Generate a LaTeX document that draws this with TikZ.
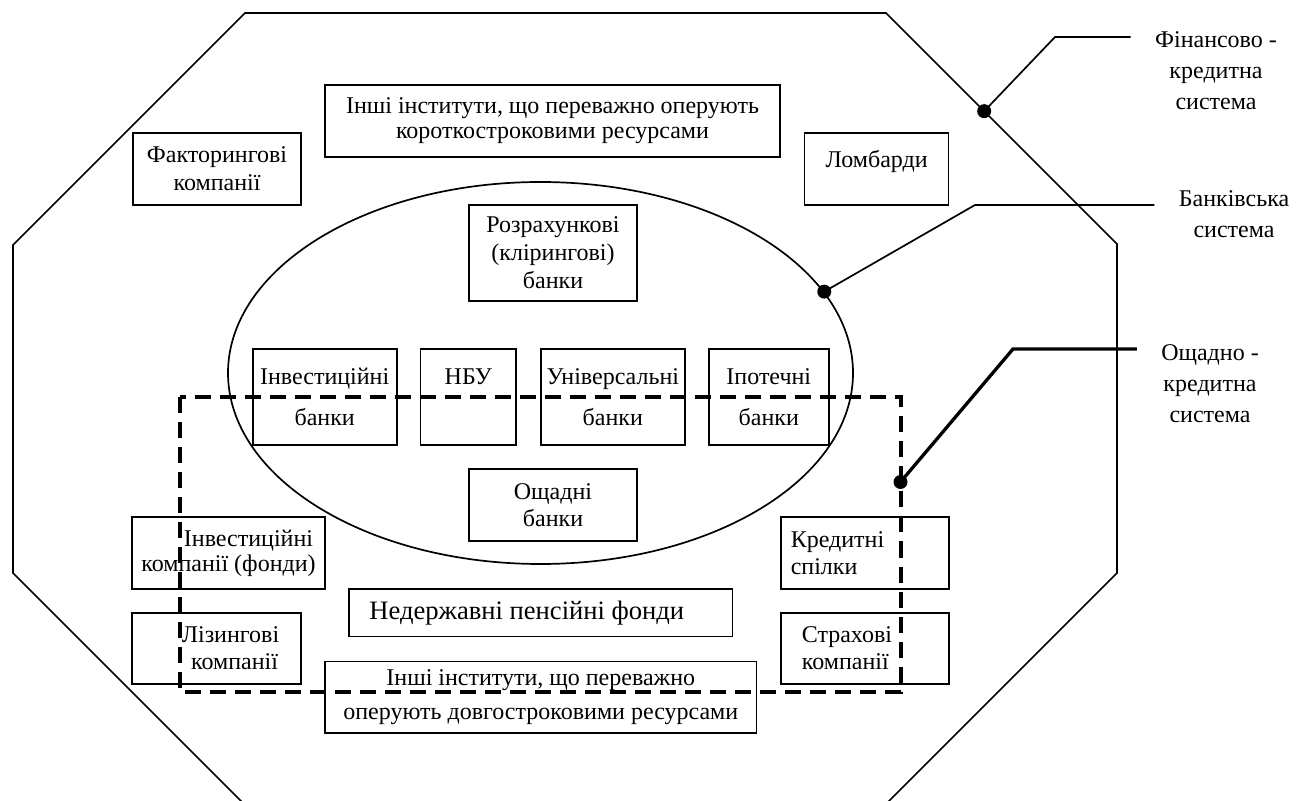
\documentclass[tikz,border=0pt]{standalone}
\usepackage{fontspec}
\setmainfont{Liberation Serif}
\usetikzlibrary{positioning,calc,shapes.geometric}
\tikzset{inst/.style={draw, line width=0.85pt, inner sep=0pt, align=center, font=\fontsize{12}{#1}\selectfont}, inst/.default=14}
\tikzset{syslabel/.style={align=center, inner xsep=12pt, font=\fontsize{12}{15.5}\selectfont}}
\tikzset{dot/.style={circle, fill=black, inner sep=0pt, minimum size=7pt}}
\tikzset{lead/.style={draw, line width=0.85pt}}
\tikzset{savlead/.style={draw, line width=1.65pt}}
\tikzset{savbound/.style={draw, line width=2pt, dash pattern=on 8pt off 4.5pt}}

\begin{document}
\begin{tikzpicture}[x=0.5pt, y=-0.5pt, line join=miter]
	\useasboundingbox (0,0) rectangle (1311,801);
	\clip (0,0) rectangle (1311,801);
	% financial and credit system (octagon)
	\coordinate (o1) at (245,13);
	\coordinate (o2) at (886,13);
	\coordinate (o3) at (1117,244);
	\coordinate (o4) at (1117,573);
	\coordinate (o5) at (885,805);
	\coordinate (o6) at (245,805);
	\coordinate (o7) at (13,573);
	\coordinate (o8) at (13,245);
	\draw[line width=0.85pt] (o1) -- (o2) -- (o3) -- (o4) -- (o5) -- (o6) -- (o7) -- (o8) -- cycle;
	%
	\node[inst=12.5, minimum width=227.5pt, minimum height=36pt] (shortres) at (552.5,121) {Інші інститути, що переважно оперують\\короткостроковими ресурсами};
	\node[inst, minimum width=84pt, minimum height=36pt] (factor) at (217,169) {Факторингові\\компанії};
	\node[inst=10, minimum width=72pt, minimum height=36pt] (lombard) at (876.6,169) {Ломбарди\\\mbox{}};
	% banking system
	\node[ellipse, draw, line width=0.85pt, minimum width=312.5pt, minimum height=191pt] (bankell) at (540.5,373) {};
	\node[inst, minimum width=84pt, minimum height=48pt] (clearing) at (553,253) {Розрахункові\\(клірингові)\\банки};
	\node[inst=20.5, minimum width=72pt, minimum height=48pt] (invbank) at (324.7,397) {Інвестиційні\\банки};
	\node[inst=20.5, minimum width=47.7pt, minimum height=48pt] (nbu) at (468.3,397) {НБУ\\\mbox{}};
	\node[inst=20.5, minimum width=72pt, minimum height=48pt] (univ) at (612.8,397) {Універсальні\\банки};
	\node[inst=20.5, minimum width=60pt, minimum height=48pt] (mortg) at (768.8,397) {Іпотечні\\банки};
	\node[inst=13.5, minimum width=84pt, minimum height=36pt] (savbank) at (553,505) {Ощадні\\банки};
	%
	\node[inst=12.5, minimum width=96.5pt, minimum height=36pt] (invcomp) at (228.5,553) {\hspace*{20pt}Інвестиційні\\компанії (фонди)};
	\node[inst=13.5, minimum width=84.5pt, minimum height=35.5pt] (leasing) at (216.5,648.5) {\hspace*{14pt}Лізингові\\\hspace*{18pt}компанії};
	\node[inst, font=\fontsize{13.3}{15}\selectfont, minimum width=191.8pt, minimum height=23.8pt] (pension) at (540.8,612.8) {Недержавні пенсійні фонди\hspace*{14pt}};
	\node[inst=17, minimum width=215.8pt, minimum height=35.7pt] (longres) at (540.8,697.3) {Інші інститути, що переважно\\оперують довгостроковими ресурсами};
	\node[inst=13.5, minimum width=84pt, minimum height=36pt, align=left, text width=74pt] (credun) at (864.8,553) {Кредитні\\спілки};
	\node[inst=13.5, minimum width=84pt, minimum height=35.5pt, align=left, text width=63pt] (insur) at (864.8,648.5) {Страхові\\компанії};
	% savings and credit system
	\coordinate (sl) at (180,397);
	\coordinate (sr) at (900.5,692);
	\draw[savbound] (sl) rectangle (sr);
	%
	\node[syslabel] (finsys) at (1216,71) {Фінансово -\\кредитна\\система};
	\node[syslabel] (banksys) at (1234,214.5) {Банківська\\система};
	\node[syslabel] (savsys) at (1210,384) {Ощадно -\\кредитна\\система};
	%
	\node[dot] (d1) at ($(o2)!0.425!(o3)$) {};
	\node[dot] (d2) at (bankell.16) {};
	\node[dot] (d3) at (900.5,482) {};
	\coordinate (k1) at (1055,37);
	\coordinate (k2) at (975,205);
	\coordinate (k3) at (1013,349);
	\draw[lead] (d1.center) -- (k1) -- (k1 -| finsys.west);
	\draw[lead] (d2.center) -- (k2) -- (k2 -| banksys.west);
	\draw[savlead] (d3.center) -- (k3) -- (k3 -| savsys.west);
\end{tikzpicture}
\end{document}
